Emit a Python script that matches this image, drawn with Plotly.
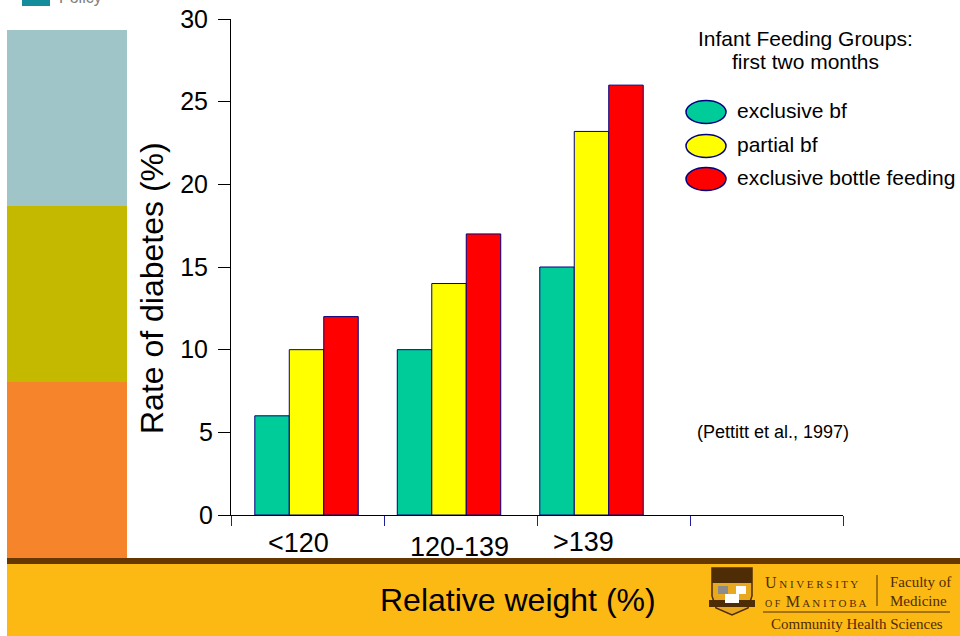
import plotly.graph_objects as go

# ---------------- data ----------------
categories = ["<120", "120-139", ">139"]
series_names = ["exclusive bf", "partial bf", "exclusive bottle feeding"]
exclusive_bf = [6, 10, 15]
partial_bf = [10, 14, 23.2]
bottle_feeding = [12, 17, 26]
y_ticks = [0, 5, 10, 15, 20, 25, 30]
legend_title = ["Infant Feeding Groups:", "first two months"]
x_title = "Relative weight (%)"
y_title = "Rate of diabetes (%)"
citation = "(Pettitt et al., 1997)"

colors = ["#00CC99", "#FFFF00", "#FF0000"]
outline = "#000080"
FONT = "Liberation Sans, Arial, sans-serif"
SERIF = "Liberation Serif, Times New Roman, serif"

# plot area in pixels
L, R, T, B = 231, 843, 19, 515
W, H = R - L, B - T


def fx(p):
    return (p - L) / W


def fy(p):
    return (B - p) / H


fig = go.Figure()
for name, vals, c in zip(series_names, [exclusive_bf, partial_bf, bottle_feeding], colors):
    fig.add_trace(go.Bar(
        x=categories, y=vals, name=name, showlegend=False,
        marker=dict(color=c, line=dict(color=outline, width=1)),
        xaxis="x", yaxis="y",
    ))
# empty helper trace so the boundary-tick axis (x2) is drawn
fig.add_trace(go.Scatter(x=[], y=[], xaxis="x2", yaxis="y", showlegend=False, hoverinfo="skip"))

shapes = []
annotations = []


def rect(x0, y0, x1, y1, color, layer="below", line=None):
    shapes.append(dict(type="rect", xref="paper", yref="paper",
                       x0=fx(x0), x1=fx(x1), y0=fy(y1), y1=fy(y0),
                       fillcolor=color, line=line or dict(width=0), layer=layer))


def text(s, x, y, size, color="black", xanchor="center", yanchor="middle", family=FONT, angle=0):
    annotations.append(dict(text=s, x=fx(x), y=fy(y), xref="paper", yref="paper",
                            showarrow=False, xanchor=xanchor, yanchor=yanchor, textangle=angle,
                            font=dict(size=size, color=color, family=family)))


def path(points, fill, color, width=1, layer="above"):
    d = "M " + " L ".join(f"{fx(a):.5f},{fy(b):.5f}" for a, b in points) + " Z"
    shapes.append(dict(type="path", xref="paper", yref="paper", path=d,
                       fillcolor=fill, line=dict(color=color, width=width), layer=layer))


# slide decoration: left colour strips
rect(7, 30, 127, 206, "#9FC5C9")
rect(7, 206, 127, 382, "#C5B900")
rect(7, 382, 127, 558, "#F5842A")
# bottom bands
rect(7, 558, 960, 564, "#673700")
rect(7, 564, 960, 636, "#FDB913")
# top-left logo fragment
rect(22, 0, 50, 6, "#138D9C")
text("Policy", 57, 8, 16, color="#808080", xanchor="left", yanchor="bottom")

# legend (manual)
leg_y = [112, 146, 179]
for (yy, c, name) in zip(leg_y, colors, series_names):
    shapes.append(dict(type="circle", xref="paper", yref="paper",
                       x0=fx(686), x1=fx(726), y0=fy(yy + 11.5), y1=fy(yy - 11.5),
                       fillcolor=c, line=dict(color=outline, width=1.5), layer="above"))
    text(name, 735, yy - 2, 21, xanchor="left")
text(legend_title[0], 805, 38, 21)
text(legend_title[1], 805, 62, 21)
text(citation, 695, 432, 18, xanchor="left")

# axis titles / category labels
text(y_title, 152, 288, 32, angle=-90)
text(x_title, 518, 600, 32)
cat_pos = [(298, 543), (459, 547), (583, 542)]
for lab, (xx, yy) in zip(categories, cat_pos):
    text(lab, xx, yy, 27)

# university logo (approximation)
brown = "#4E2C06"
path([(712, 568), (752, 568), (752, 596), (748, 608), (732, 615), (716, 608), (712, 596)], "#E9A91E", brown, 1.5)
rect(712, 568, 752, 583, brown, layer="above")
rect(718, 586, 728, 594, "#8C8C8C", layer="above")
rect(736, 586, 746, 594, "#FFFFFF", layer="above")
rect(709, 600, 755, 607, brown, layer="above")
rect(725, 594, 739, 603, "#FFFFFF", layer="above")
text("<span style='font-size:16px'>U</span> N I V E R S I T Y", 763, 582, 11, color=brown, xanchor="left", family=SERIF)
text("<span style='font-size:10px'>O F</span>  <span style='font-size:16px'>M</span> A N I T O B A", 763, 601, 11, color=brown, xanchor="left", family=SERIF)
text("Faculty of", 888, 582, 15, color=brown, xanchor="left", family=SERIF)
text("Medicine", 888, 601, 15, color=brown, xanchor="left", family=SERIF)
shapes.append(dict(type="line", xref="paper", yref="paper", x0=fx(877), x1=fx(877), y0=fy(606), y1=fy(575),
                   line=dict(color=brown, width=1), layer="above"))
shapes.append(dict(type="line", xref="paper", yref="paper", x0=fx(763), x1=fx(950), y0=fy(612), y1=fy(612),
                   line=dict(color=brown, width=1), layer="above"))
text("Community Health Sciences", 857, 624, 15, color=brown, family=SERIF)

# two-digit tick labels sit slightly further from the axis in the original
y_ticktext = [str(v) + ("\u2009" if v >= 10 else "") for v in y_ticks]

fig.update_layout(
    width=960, height=636,
    margin=dict(l=L, r=960 - R, t=T, b=636 - B, pad=0, autoexpand=False),
    paper_bgcolor="white", plot_bgcolor="white",
    barmode="group", bargap=0.274, bargroupgap=0,
    showlegend=False,
    font=dict(family=FONT, color="black"),
    xaxis=dict(type="category", range=[-0.53, 3.765], visible=False, fixedrange=True, automargin=False),
    xaxis2=dict(overlaying="x", anchor="y", side="bottom", type="linear", range=[0, 4],
                tickvals=[0, 1, 2, 3, 4], ticks="outside", ticklen=10, tickwidth=1,
                tickcolor="#1F1F9A", showticklabels=False, showline=True, automargin=False,
                linecolor="black", linewidth=1, showgrid=False, zeroline=False),
    yaxis=dict(range=[0, 30], tickvals=y_ticks, ticktext=y_ticktext, ticks="outside", ticklen=12, tickwidth=1,
               tickcolor="black", showline=True, linecolor="black", linewidth=1, automargin=False,
               showgrid=False, zeroline=False, tickfont=dict(size=25, color="black")),
    shapes=shapes, annotations=annotations,
)

fig.write_html("out.html", config={"displayModeBar": False},
               post_script="document.body.style.margin='0px';document.body.style.overflow='hidden';")
